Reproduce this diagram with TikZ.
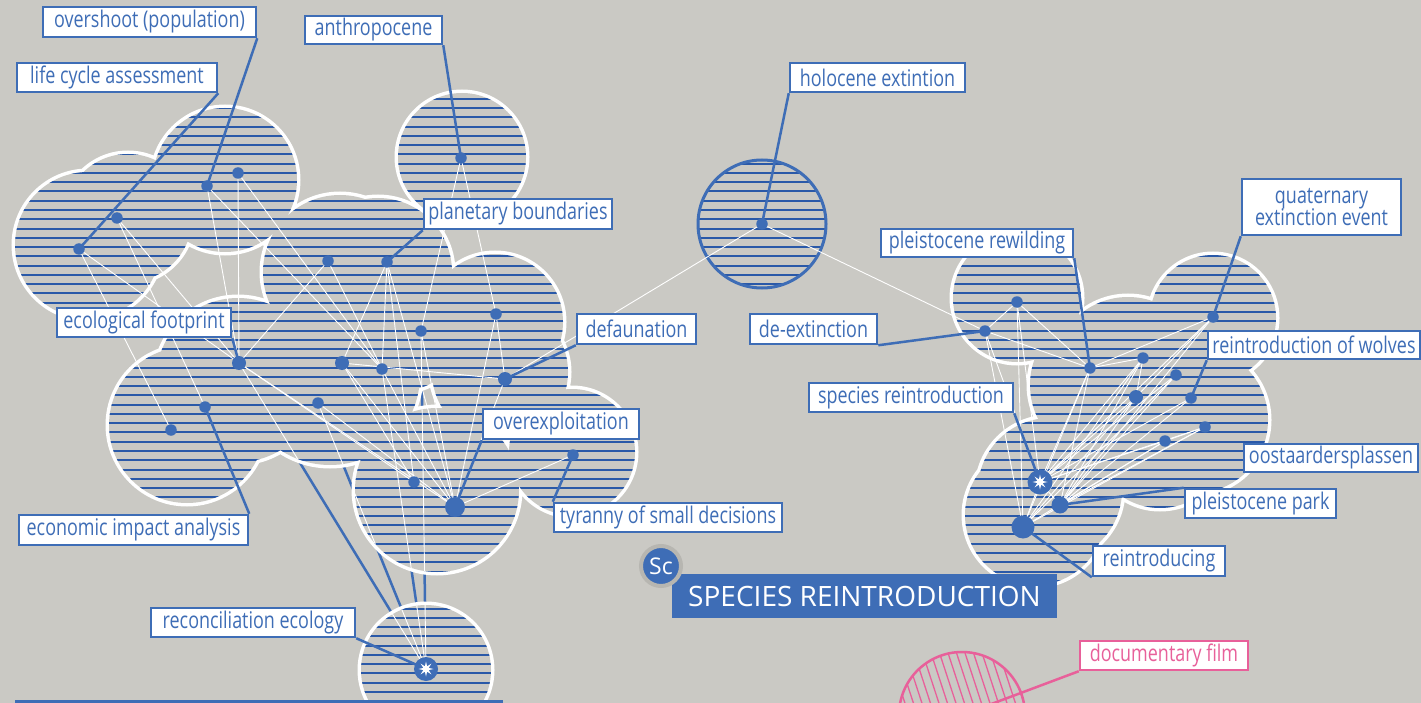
\documentclass[tikz,border=0pt]{standalone}
\usepackage{fontspec}
\setmainfont{Open Sans}
\newfontfamily\lblfont[FakeStretch=0.78]{Open Sans}
\usetikzlibrary{shapes.geometric}
\definecolor{bg}{HTML}{CAC9C4}
\definecolor{bl}{HTML}{3E6DB6}
\definecolor{st}{HTML}{2A59A8}
\definecolor{pk}{HTML}{E8609A}
\definecolor{ring}{HTML}{B7B6B1}
\tikzset{
 lbl/.style={draw=bl, line width=2.5pt, fill=white, text=bl, font=\lblfont\fontsize{23}{25}\selectfont, inner sep=0pt},
 pklbl/.style={lbl, draw=pk, text=pk},
 dot/.style={circle, fill=bl, inner sep=0pt, minimum size=11.5pt},
 mdot/.style={dot, minimum size=14pt},
 edge/.style={draw=white, line width=0.9pt},
 leader/.style={draw=bl, line width=2.5pt},
 stripe/.style={draw=st, line width=2pt},
 cloudline/.style={draw=white, line width=7pt},
 starmark/.style={star, star points=8, star point ratio=2.6, fill=white, inner sep=0pt, minimum size=15pt},
}
\def\cloudL{(88,245) circle[radius=73pt]
 (128,218) circle[radius=64pt]
 (225,180) circle[radius=72pt]
 (462,157) circle[radius=64pt]
 (340,272) circle[radius=77pt]
 (378,272) circle[radius=74pt]
 (405,335) circle[radius=55pt]
 (495,322) circle[radius=68pt]
 (500,372) circle[radius=68pt]
 (572,452) circle[radius=63pt]
 (437,490) circle[radius=82pt]
 (330,375) circle[radius=90pt]
 (187,425) circle[radius=78pt]
 (238,380) circle[radius=82pt]}
\def\cloudT{(426,670) circle[radius=65pt]}
\def\cloudR{(1017,298) circle[radius=64pt]
 (1128,372) circle[radius=75pt]
 (1105,385) circle[radius=75pt]
 (1213,318) circle[radius=63pt]
 (1195,420) circle[radius=73pt]
 (1160,440) circle[radius=68pt]
 (1050,490) circle[radius=72pt]
 (1035,515) circle[radius=70pt]}
\def\cloudH{(762,224) circle[radius=64pt]}
\begin{document}
\begin{tikzpicture}[x=1pt,y=-1pt]
\useasboundingbox (0,0) rectangle (1421,703);
\clip (0,0) rectangle (1421,703);
\fill[bg] (0,0) rectangle (1421,703);

% dot coordinates
\coordinate (A) at (79,249);
\coordinate (B) at (117,218);
\coordinate (C) at (207,186);
\coordinate (D) at (238,173);
\coordinate (E) at (461,158);
\coordinate (F) at (328,261);
\coordinate (G) at (387,262);
\coordinate (H) at (496,314);
\coordinate (I) at (421,331);
\coordinate (J) at (239,363);
\coordinate (K) at (342,363);
\coordinate (L) at (382,369);
\coordinate (M) at (505,379);
\coordinate (N) at (205,407);
\coordinate (O) at (171,430);
\coordinate (P) at (318,403);
\coordinate (Q) at (414,482);
\coordinate (R) at (455,507);
\coordinate (S) at (573,455);
\coordinate (T) at (426,669);
\coordinate (HO) at (762,224);
\coordinate (Q1) at (1017,302);
\coordinate (DE) at (985,331);
\coordinate (PR) at (1090,368);
\coordinate (Q2) at (1143,358);
\coordinate (Q3) at (1176,375);
\coordinate (Q4) at (1136,397);
\coordinate (WO) at (1191,398);
\coordinate (QE) at (1213,317);
\coordinate (Q5) at (1205,427);
\coordinate (OO) at (1165,441);
\coordinate (SR) at (1040,482);
\coordinate (PP) at (1060,505);
\coordinate (RI) at (1023,527);
\coordinate (PK) at (962,715);

% blue links from reconciliation node into the cluster
\foreach \b in {J,P,L,I} \draw[leader] (T) -- (\b);

% clouds
\draw[cloudline] \cloudL \cloudT \cloudR;
\fill[bg] \cloudL \cloudT \cloudR;
\begin{scope}
 \clip \cloudL \cloudT \cloudR \cloudH;
 \foreach \k in {0,...,76} \draw[stripe] (0,{6.05+9.27*\k}) -- (1421,{6.05+9.27*\k});
\end{scope}
\draw[bl, line width=3pt] \cloudH;

% pink circle
\begin{scope}
 \clip (PK) circle[radius=63pt];
 \foreach \k in {-14,...,14} \draw[pk, line width=1.3pt] ({962+8.5*\k-30},630) -- ({962+8.5*\k+6},740);
\end{scope}
\draw[pk, line width=2.5pt] (PK) circle[radius=63pt];

% white links inside clouds for reconciliation node
\begin{scope}
 \clip \cloudL \cloudT;
 \foreach \b in {J,P,L,I} \draw[edge] (T) -- (\b);
\end{scope}

% white edges
\foreach \a/\b in {A/J,A/O,B/J,B/N,C/J,C/L,D/J,D/L,F/J,F/L,G/K,G/L,G/Q,G/R,E/I,E/H,H/M,H/R,K/M,K/R,K/Q,J/R,J/Q,M/R,S/R,I/R,P/R,L/R,HO/M,HO/DE,
 SR/Q1,SR/DE,SR/PR,SR/Q2,SR/Q3,SR/Q4,SR/WO,SR/QE,SR/Q5,SR/OO,
 PP/PR,PP/Q2,PP/Q3,PP/Q4,PP/WO,PP/OO,PP/Q5,PP/QE,
 RI/PR,RI/Q2,RI/Q4,RI/OO,RI/Q5,RI/Q3,RI/DE,RI/Q1,
 DE/Q1,Q1/PR,DE/PR,PR/Q2,PR/QE,QE/Q4,Q2/Q4,OO/Q5,SR/PP,SR/RI}
 \draw[edge] (\a) -- (\b);

% labels
\node[lbl, minimum width=213pt, minimum height=30pt] (lOv) at (149.5,22) {overshoot (population)};
\node[lbl, minimum width=200pt, minimum height=29pt] (lLc) at (117,77.5) {life cycle assessment};
\node[lbl, minimum width=137pt, minimum height=28pt] (lAn) at (373.5,30) {anthropocene};
\node[lbl, minimum width=188pt, minimum height=30pt] (lPb) at (518,214) {planetary boundaries};
\node[lbl, minimum width=174pt, minimum height=29pt] (lEf) at (144,322.5) {ecological footprint};
\node[lbl, minimum width=119pt, minimum height=30pt] (lDf) at (636.5,329) {defaunation};
\node[lbl, minimum width=156pt, minimum height=30pt] (lOx) at (561,424) {overexploitation};
\node[lbl, minimum width=228pt, minimum height=29pt] (lTy) at (668,517.5) {tyranny of small decisions};
\node[lbl, minimum width=229pt, minimum height=30pt] (lEc) at (133.5,530) {economic impact analysis};
\node[lbl, minimum width=204pt, minimum height=29pt] (lRe) at (253,622.5) {reconciliation ecology};
\node[lbl, minimum width=175pt, minimum height=29pt] (lHo) at (877.5,77.5) {holocene extintion};
\node[lbl, minimum width=127pt, minimum height=30pt] (lDe) at (813.5,329) {de-extinction};
\node[lbl, minimum width=192pt, minimum height=28pt] (lPr) at (977,243) {pleistocene rewilding};
\node[lbl, minimum width=159pt, minimum height=56pt, align=center] (lQe) at (1321.5,207) {quaternary\\[-3pt]extinction event};
\node[lbl, minimum width=212pt, minimum height=28pt] (lWo) at (1314,345) {reintroduction of wolves};
\node[lbl, minimum width=204pt, minimum height=29pt] (lSr) at (911,397.5) {species reintroduction};
\node[lbl, minimum width=174pt, minimum height=28pt] (lOo) at (1331,458) {oostaardersplassen};
\node[lbl, minimum width=151pt, minimum height=29pt] (lPp) at (1260.5,503.5) {pleistocene park};
\node[lbl, minimum width=132pt, minimum height=30pt] (lRi) at (1159,561) {reintroducing};
\node[pklbl, minimum width=168pt, minimum height=29pt] (lDoc) at (1164,655.5) {documentary film};

% leaders
\draw[leader] (lOv.south east) -- (C);
\draw[leader] (lLc.south east) -- (A);
\draw[leader] (lAn.south east) -- (E);
\draw[leader] (lPb.south west) -- (G);
\draw[leader] (lEf.south east) -- (J);
\draw[leader] (lDf.south west) -- (M);
\draw[leader] (lOx.south west) -- (R);
\draw[leader] (lTy.north west) -- (S);
\draw[leader] (lEc.north east) -- (N);
\draw[leader] (lRe.south east) -- (T);
\draw[leader] (lHo.south west) -- (HO);
\draw[leader] (lDe.south east) -- (DE);
\draw[leader] (lPr.south east) -- (PR);
\draw[leader] (lQe.south west) -- (QE);
\draw[leader] (lWo.south west) -- (WO);
\draw[leader] (lSr.south east) -- (SR);
\draw[leader] (lPp.north west) -- (PP);
\draw[leader] (lRi.south west) -- (RI);
\draw[pk, line width=2.5pt] (lDoc.south west) -- (PK);

% dots
\foreach \p in {A,B,C,D,E,F,G,H,I,L,N,O,P,Q,S,HO,Q1,DE,PR,Q2,Q3,WO,QE,Q5,OO}
 \node[dot] (d\p) at (\p) {};
\foreach \p in {J,K,M,Q4} \node[mdot] (d\p) at (\p) {};
\node[dot, minimum size=20pt] (dR) at (R) {};
\node[dot, minimum size=17pt] (dPP) at (PP) {};
\node[dot, minimum size=23pt] (dRI) at (RI) {};
\node[dot, minimum size=24pt] (dT) at (T) {};
\node[starmark] at (T) {};
\node[dot, minimum size=25pt] (dSR) at (SR) {};
\node[starmark] at (SR) {};

% bottom line
\coordinate (bl1) at (15,701);
\coordinate (bl2) at (503,701);
\draw[bl, line width=3pt] (bl1) -- (bl2);

% title
\node[fill=bl, text=white, minimum width=385pt, minimum height=44pt, inner sep=0pt, font=\fontsize{28}{30}\selectfont] (title) at (864.5,596) {SPECIES REINTRODUCTION};
\node[circle, fill=bl, draw=ring, line width=4pt, minimum size=40pt, inner sep=0pt, text=white, font=\fontsize{23}{25}\selectfont] (sc) at (661,566) {Sc};
\end{tikzpicture}
\end{document}
